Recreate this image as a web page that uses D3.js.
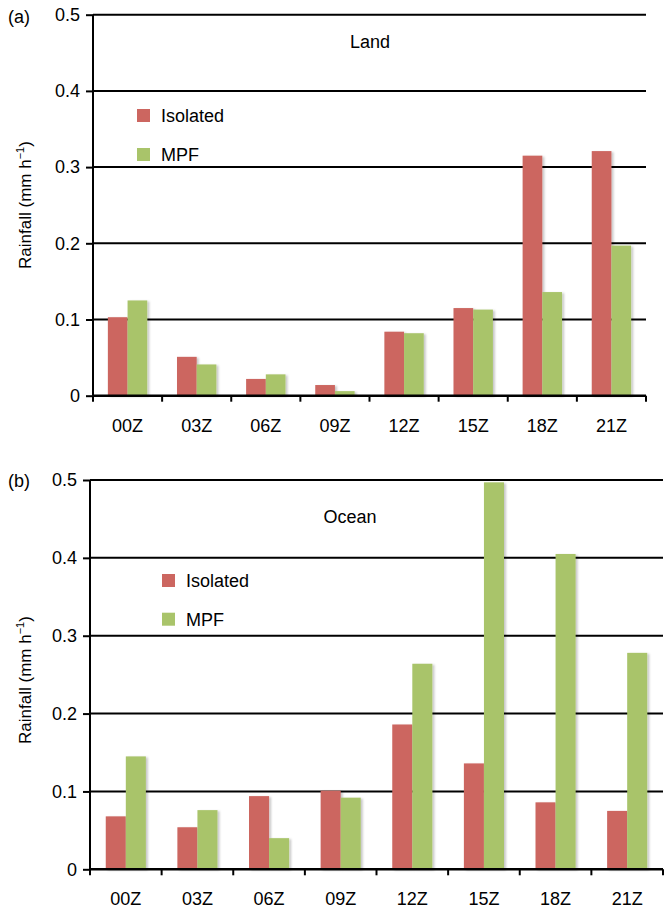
<!DOCTYPE html>
<html>
<head>
<meta charset="utf-8">
<script src="https://cdn.jsdelivr.net/npm/d3@7"></script>
<style>
  html, body { margin: 0; padding: 0; background: #fff; }
  svg { display: block; font-family: "Liberation Sans", Arial, Helvetica, sans-serif; }
</style>
</head>
<body>
<svg id="chart" width="665" height="910"></svg>
<script>
// Mean rainfall by time of day (UTC), isolated vs MPF systems
const hours = ["00Z", "03Z", "06Z", "09Z", "12Z", "15Z", "18Z", "21Z"];
const seriesNames = ["Isolated", "MPF"];
const landIsolated = [0.103, 0.051, 0.022, 0.014, 0.084, 0.115, 0.315, 0.321];
const landMPF      = [0.125, 0.041, 0.028, 0.006, 0.082, 0.113, 0.136, 0.197];
const oceanIsolated = [0.068, 0.054, 0.094, 0.101, 0.186, 0.136, 0.086, 0.075];
const oceanMPF      = [0.145, 0.076, 0.040, 0.092, 0.264, 0.497, 0.405, 0.278];
const yTicks = [0, 0.1, 0.2, 0.3, 0.4, 0.5];
const colors = ["#cc6660", "#a9c46a"];

const svg = d3.select("#chart");
const FONT = 18;

const defs = svg.append("defs");
const shadow = defs.append("filter").attr("id", "barShadow")
  .attr("x", "-20%").attr("y", "-5%").attr("width", "150%").attr("height", "115%");
shadow.append("feDropShadow")
  .attr("dx", 2).attr("dy", 1).attr("stdDeviation", 1.2)
  .attr("flood-color", "#000").attr("flood-opacity", 0.22);

function drawPanel(p) {
  const g = svg.append("g");
  const x = d3.scaleBand().domain(hours).range([p.left, p.right])
    .paddingInner(p.pad).paddingOuter(p.pad / 2);
  const xs = d3.scaleBand().domain(seriesNames).range([0, x.bandwidth()]);
  const y = d3.scaleLinear().domain([0, 0.5]).range([p.bottom, p.top]);

  // horizontal gridlines
  g.append("g").selectAll("line").data(yTicks.slice(1)).join("line")
    .attr("x1", p.left).attr("x2", p.right)
    .attr("y1", d => y(d)).attr("y2", d => y(d))
    .attr("stroke", "#000").attr("stroke-width", 2);

  // bars
  const rows = hours.map((h, i) => ({ h, vals: [p.a[i], p.b[i]] }));
  const grp = g.append("g").selectAll("g").data(rows).join("g")
    .attr("transform", d => `translate(${x(d.h)},0)`);
  grp.selectAll("rect").data(d => d.vals.map((v, k) => ({ v, k }))).join("rect")
    .attr("x", d => xs(seriesNames[d.k]))
    .attr("width", xs.bandwidth())
    .attr("y", d => y(d.v))
    .attr("height", d => y(0) - y(d.v))
    .attr("fill", d => colors[d.k])
    .attr("filter", "url(#barShadow)");

  // y axis
  const yAxis = g.append("g").attr("transform", `translate(${p.left},0)`)
    .call(d3.axisLeft(y).tickValues(yTicks).tickSize(7).tickPadding(6)
      .tickFormat(d => d === 0 ? "0" : d3.format(".1f")(d)));
  yAxis.select(".domain").attr("stroke-width", 2).attr("d", `M0,${p.bottom}V${p.top}`);
  yAxis.selectAll(".tick line").attr("stroke-width", 2);
  yAxis.selectAll("text").attr("font-size", FONT).attr("fill", "#000")
    .attr("font-family", "Liberation Sans, Arial, sans-serif");

  // x axis with ticks at category boundaries
  const bounds = d3.range(hours.length + 1).map(i => p.left + i * x.step());
  const xAxis = g.append("g");
  xAxis.append("line").attr("x1", p.left).attr("x2", p.right)
    .attr("y1", p.bottom).attr("y2", p.bottom)
    .attr("stroke", "#000").attr("stroke-width", 2.5);
  xAxis.selectAll("line.tk").data(bounds).join("line").attr("class", "tk")
    .attr("x1", d => d).attr("x2", d => d)
    .attr("y1", p.bottom).attr("y2", p.bottom + 6)
    .attr("stroke", "#000").attr("stroke-width", 2);
  xAxis.selectAll("text").data(hours).join("text")
    .attr("x", d => x(d) + x.bandwidth() / 2)
    .attr("y", p.bottom + 36)
    .attr("text-anchor", "middle")
    .attr("font-size", FONT)
    .text(d => d);

  // panel tag, title
  g.append("text").attr("x", 8).attr("y", p.tagY).attr("font-size", FONT).text(p.tag);
  g.append("text").attr("x", p.titleX).attr("y", p.titleY)
    .attr("text-anchor", "middle").attr("font-size", FONT).text(p.title);

  // y axis title
  const yt = g.append("text")
    .attr("transform", `translate(${p.ylabX},${p.ylabY}) rotate(-90)`)
    .attr("text-anchor", "middle").attr("font-size", FONT - 1);
  yt.append("tspan").text("Rainfall (mm h");
  yt.append("tspan").attr("font-size", 11).attr("dy", -7).text("\u22121");
  yt.append("tspan").attr("dy", 7).text(")");

  // legend
  const lg = g.append("g").selectAll("g").data(seriesNames).join("g")
    .attr("transform", (d, i) => `translate(${p.legX},${p.legY + i * p.legGap})`);
  lg.append("rect").attr("width", 13).attr("height", 13)
    .attr("fill", (d, i) => colors[i]);
  lg.append("text").attr("x", 24).attr("y", 13).attr("font-size", FONT).text(d => d);
}

drawPanel({
  tag: "(a)", tagY: 23, title: "Land", titleX: 370, titleY: 48,
  a: landIsolated, b: landMPF,
  left: 93, right: 646, top: 14.7, bottom: 395.7, pad: 0.43,
  ylabX: 31, ylabY: 205,
  legX: 137, legY: 109, legGap: 39
});

drawPanel({
  tag: "(b)", tagY: 487, title: "Ocean", titleX: 350, titleY: 523,
  a: oceanIsolated, b: oceanMPF,
  left: 90, right: 663, top: 480, bottom: 869.3, pad: 0.44,
  ylabX: 31, ylabY: 680,
  legX: 162, legY: 574, legGap: 38.7
});
</script>
</body>
</html>
